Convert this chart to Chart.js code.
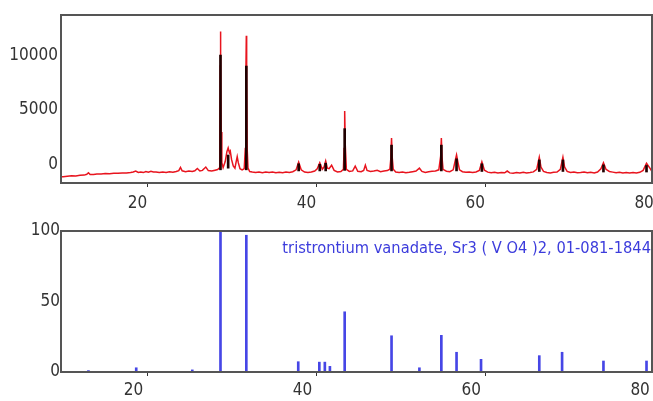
<!DOCTYPE html>
<html>
<head>
<meta charset="utf-8">
<script src="https://cdn.jsdelivr.net/npm/chart.js@4/dist/chart.umd.min.js"></script>
<style>
  body { margin: 0; background: #fff; }
  #wrap { position: relative; width: 653px; height: 401px; overflow: hidden; }
  canvas { position: absolute; left: 0; }
</style>
</head>
<body>
<div id="wrap">
  <canvas id="top" width="653" height="218" style="top:0"></canvas>
  <canvas id="bottom" width="653" height="183" style="top:218px"></canvas>
</div>
<script>
// measured pattern: [2theta, counts]
const observed = [
  [9.75,-1090],[10.0,-1080],[10.5,-1040],[11.0,-1000],[11.5,-1010],[12.0,-950],[12.5,-930],[12.8,-860],[13.0,-720],
  [13.2,-880],[13.6,-870],[14.0,-820],[14.5,-830],[15.0,-790],[15.5,-800],[16.0,-760],[16.5,-770],
  [17.0,-730],[17.5,-740],[18.0,-700],[18.3,-640],[18.6,-560],[18.9,-690],[19.2,-640],[19.5,-700],
  [19.8,-600],[20.1,-660],[20.4,-580],[20.7,-650],[21.0,-640],[21.4,-700],[21.8,-640],[22.2,-690],
  [22.6,-630],[23.0,-660],[23.4,-600],[23.7,-520],[23.9,-230],[24.1,-540],[24.5,-620],[24.9,-560],
  [25.3,-600],[25.6,-540],[25.9,-330],[26.2,-560],[26.5,-500],[26.9,-200],[27.2,-520],[27.6,-560],
  [28.0,-480],[28.3,-420],[28.48,-300],[28.56,2500],[28.61,9000],[28.64,12150],[28.67,9500],[28.72,3000],
  [28.8,200],[28.95,-250],[29.2,300],[29.4,1200],[29.55,1550],[29.7,1100],[29.8,1250],[29.95,500],
  [30.15,-100],[30.35,-300],[30.5,300],[30.62,750],[30.75,200],[30.95,-350],[31.2,-450],[31.45,-350],
  [31.58,1500],[31.65,8500],[31.7,11750],[31.74,8000],[31.8,1500],[31.9,-300],[32.1,-600],[32.4,-650],
  [32.8,-700],[33.2,-640],[33.6,-720],[34.0,-660],[34.4,-700],[34.8,-640],[35.2,-710],[35.6,-670],
  [36.0,-720],[36.4,-650],[36.8,-690],[37.2,-620],[37.6,-450],[37.9,250],[38.2,-450],[38.6,-650],
  [39.0,-700],[39.4,-640],[39.8,-560],[40.1,-350],[40.4,200],[40.7,-400],[40.9,-200],[41.1,350],
  [41.3,-300],[41.5,-350],[41.8,-30],[42.1,-500],[42.5,-650],[42.9,-600],[43.2,-400],[43.28,1500],
  [43.35,4900],[43.42,1800],[43.55,-400],[43.9,-600],[44.3,-550],[44.6,-120],[44.9,-580],[45.3,-620],
  [45.6,-500],[45.8,-20],[46.0,-500],[46.4,-600],[46.8,-560],[47.2,-500],[47.6,-620],[48.0,-560],
  [48.4,-520],[48.7,-400],[48.82,600],[48.9,2450],[48.98,700],[49.1,-400],[49.4,-650],[49.8,-700],
  [50.2,-650],[50.6,-720],[51.0,-680],[51.4,-620],[51.8,-560],[52.2,-300],[52.5,-600],[52.9,-700],
  [53.3,-620],[53.7,-580],[54.1,-560],[54.5,-450],[54.72,800],[54.8,2450],[54.88,700],[55.0,-400],
  [55.4,-580],[55.8,-620],[56.2,-450],[56.45,400],[56.6,900],[56.75,300],[56.95,-450],[57.3,-620],
  [57.7,-680],[58.1,-640],[58.5,-700],[58.9,-650],[59.3,-500],[59.6,270],[59.9,-480],[60.3,-660],
  [60.7,-720],[61.1,-680],[61.5,-740],[61.9,-700],[62.3,-720],[62.6,-560],[62.9,-730],[63.3,-760],
  [63.7,-700],[64.1,-740],[64.5,-680],[64.9,-730],[65.3,-700],[65.7,-640],[66.1,-400],[66.4,700],
  [66.6,-200],[66.9,-600],[67.3,-700],[67.7,-740],[68.1,-680],[68.5,-650],[68.9,-400],[69.2,700],
  [69.4,-200],[69.7,-600],[70.1,-700],[70.5,-660],[70.9,-720],[71.3,-690],[71.7,-640],[72.1,-720],
  [72.5,-680],[72.9,-740],[73.3,-650],[73.7,-350],[74.0,200],[74.3,-400],[74.7,-600],[75.1,-660],
  [75.5,-720],[75.9,-680],[76.3,-740],[76.7,-700],[77.1,-730],[77.5,-690],[77.9,-740],[78.3,-680],
  [78.7,-500],[79.1,150],[79.5,-300],[79.75,-600]
];

// dark peak markers inside the measured peaks: [2theta, from, to]
const peakMarks = [
  [28.64,-450,10000],[29.55,-300,900],[31.7,-450,9000],[37.9,-550,100],[40.4,-550,50],[41.1,-550,150],
  [43.35,-500,3300],[48.9,-550,1800],[54.8,-550,1800],[56.6,-550,550],[59.6,-600,100],
  [66.4,-600,450],[69.2,-600,450],[74.0,-650,0],[79.1,-650,-50]
];

// reference card sticks: 2theta and relative intensity
const refAngle  = [13.0, 18.66, 25.3, 28.64, 31.7, 37.85, 40.35, 41.0, 41.6, 43.35, 48.9, 52.2, 54.8, 56.6, 59.5, 66.4, 69.1, 74.0, 79.1];
const refIntens = [1, 3, 1.5, 100, 97, 7.3, 7, 7, 4, 42.7, 25.7, 3, 26, 14, 9, 11.6, 14, 7.8, 7.8];

const xTicks = [20, 40, 60, 80];
const yTicksTop = [0, 5000, 10000];
const yTicksBottom = [0, 50, 100];
const refTitle = 'tristrontium vanadate, Sr3 ( V O4 )2, 01-081-1844';

const FONT = "'Liberation Sans Narrow', 'DejaVu Sans Condensed', sans-serif";
const tickFont = { family: FONT, size: 17 };
const tickColor = '#333';

const boxPlugin = {
  id: 'box',
  afterDraw(chart) {
    const a = chart.chartArea, c = chart.ctx;
    c.save();
    c.strokeStyle = '#555';
    c.lineWidth = 2;
    c.strokeRect(a.left, a.top, a.right - a.left, a.bottom - a.top);
    c.restore();
  }
};

const titlePlugin = {
  id: 'refTitle',
  afterDatasetsDraw(chart) {
    const a = chart.chartArea, c = chart.ctx;
    c.save();
    let size = 20;
    c.font = size + 'px ' + FONT;
    const w = c.measureText(refTitle).width;
    size = size * 369 / w;
    c.font = size + 'px ' + FONT;
    c.fillStyle = '#3c3cdc';
    c.textAlign = 'right';
    c.textBaseline = 'middle';
    c.fillText(refTitle, a.right - 1, a.top + 18);
    c.restore();
  }
};

function xAxis(height, pad, offset) {
  return {
    type: 'linear', min: 9.75, max: 79.75, offset: false,
    afterBuildTicks: s => { s.ticks = xTicks.map(v => ({ value: v })); },
    afterFit: s => { s.height = height; s.paddingLeft = 0; s.paddingRight = 0; },
    grid: { drawOnChartArea: false, drawTicks: true, tickLength: 4, color: '#333', offset: false },
    border: { display: false },
    ticks: { font: tickFont, color: tickColor, padding: pad, labelOffset: offset, maxRotation: 0, callback: v => String(v) }
  };
}

function yAxis(min, max, ticks, pad) {
  return {
    min: min, max: max,
    afterBuildTicks: s => { s.ticks = ticks.map(v => ({ value: v })); },
    afterFit: s => { s.width = 61; },
    grid: { display: false, drawTicks: false },
    border: { display: false },
    ticks: { font: tickFont, color: tickColor, padding: pad, callback: v => String(v) }
  };
}

new Chart(document.getElementById('top'), {
  type: 'scatter',
  data: {
    datasets: [
      {
        type: 'bar',
        data: peakMarks.map(p => ({ x: p[0], y: [p[1], p[2]] })),
        backgroundColor: '#200000',
        barThickness: 2,
        order: 1
      },
      {
        data: observed.map(p => ({ x: p[0], y: p[1] })),
        showLine: true,
        borderColor: '#e8141e',
        borderWidth: 1.5,
        pointRadius: 0,
        tension: 0,
        order: 2
      }
    ]
  },
  options: {
    responsive: false,
    animation: false,
    devicePixelRatio: 1,
    layout: { padding: { left: 0, right: 1, top: 15, bottom: 0 } },
    plugins: { legend: { display: false }, tooltip: { enabled: false } },
    scales: {
      x: xAxis(35, 6, -10),
      y: yAxis(-1650, 13650, yTicksTop, 3)
    }
  },
  plugins: [boxPlugin]
});

new Chart(document.getElementById('bottom'), {
  type: 'bar',
  data: {
    datasets: [{
      data: refAngle.map((a, i) => ({ x: a, y: refIntens[i] })),
      backgroundColor: '#4646e6',
      barThickness: 2
    }]
  },
  options: {
    responsive: false,
    animation: false,
    devicePixelRatio: 1,
    layout: { padding: { left: 0, right: 1, top: 13, bottom: 0 } },
    plugins: { legend: { display: false }, tooltip: { enabled: false } },
    scales: {
      x: xAxis(29, 4, -14),
      y: yAxis(0, 100, yTicksBottom, 1)
    }
  },
  plugins: [boxPlugin, titlePlugin]
});
</script>
</body>
</html>
